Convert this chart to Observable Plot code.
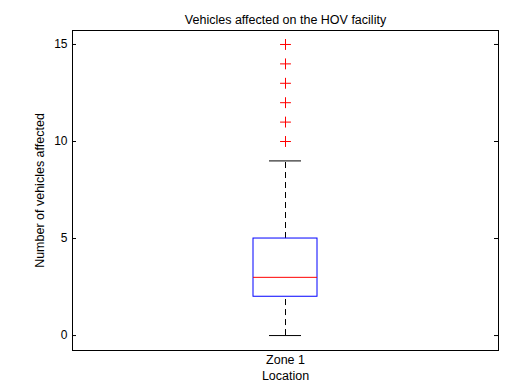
<!DOCTYPE html>
<html>
<head>
<meta charset="utf-8">
<script src="https://cdn.jsdelivr.net/npm/d3@7"></script>
<script src="https://cdn.jsdelivr.net/npm/@observablehq/plot@0.6"></script>
<style>
  html, body { margin: 0; padding: 0; background: #fff; }
  #chart svg { display: block; }
</style>
</head>
<body>
<div id="chart"></div>
<script>
// Data
const categories = ["Zone 1"];
const whiskerLow = [0];
const q1 = [2];
const median = [3];
const q3 = [5];
const whiskerHigh = [9];
const outliers = [10, 11, 12, 13, 14, 15];
const yTicks = [0, 5, 10, 15];
const title = "Vehicles affected on the HOV facility";
const xLabel = "Location";
const yLabel = "Number of vehicles affected";

const boxes = categories.map((c, i) => ({
  zone: c, lo: whiskerLow[i], q1: q1[i], med: median[i], q3: q3[i], hi: whiskerHigh[i]
}));
const outs = outliers.map(v => ({zone: categories[0], v}));

const W = 508, H = 389;
const mL = 72, mR = 10, mT = 30, mB = 39;
const plotW = W - mL - mR;
const font = "Liberation Sans, Arial, sans-serif";
const fs = 12.5;

const chart = Plot.plot({
  width: W,
  height: H,
  marginLeft: mL,
  marginRight: mR,
  marginTop: mT,
  marginBottom: mB,
  style: {fontFamily: font, fontSize: fs + "px", color: "#000", background: "#fff"},
  x: {type: "band", domain: categories, padding: 0.739, axis: null},
  y: {domain: [-0.77, 15.72], axis: null},
  marks: [
    // frame
    Plot.frame({stroke: "#000", strokeWidth: 1}),
    // inward y ticks, left and right
    Plot.tickY(yTicks, {y: d => d, stroke: "#000", insetRight: plotW - 4}),
    Plot.tickY(yTicks, {y: d => d, stroke: "#000", insetLeft: plotW - 4}),
    // whiskers (dashed)
    Plot.ruleX(boxes, {x: "zone", y1: "q3", y2: "hi", stroke: "#000", strokeDasharray: "6,4", strokeWidth: 1}),
    Plot.ruleX(boxes, {x: "zone", y1: "lo", y2: "q1", stroke: "#000", strokeDasharray: "6,4", strokeWidth: 1}),
    // whisker caps
    Plot.tickY(boxes, {x: "zone", y: "hi", stroke: "#000", strokeWidth: 1, insetLeft: 16, insetRight: 16}),
    Plot.tickY(boxes, {x: "zone", y: "lo", stroke: "#000", strokeWidth: 1, insetLeft: 16, insetRight: 16}),
    // box
    Plot.barY(boxes, {x: "zone", y1: "q1", y2: "q3", fill: "none", stroke: "#0000ff", strokeWidth: 1}),
    // median
    Plot.tickY(boxes, {x: "zone", y: "med", stroke: "#ff0000", strokeWidth: 1}),
    // y tick labels
    Plot.axisY(yTicks, {anchor: "left", tickSize: 0, tickPadding: 5, fontSize: 12, label: null}),
    // x tick label
    Plot.axisX(categories, {anchor: "bottom", tickSize: 0, tickPadding: 5, fontSize: fs, label: null}),
    // x axis title
    Plot.text([xLabel], {frameAnchor: "bottom", lineAnchor: "bottom", dy: 29, fontSize: fs, fill: "#000"}),
    // y axis title
    Plot.text([yLabel], {frameAnchor: "left", textAnchor: "middle", dx: -33, rotate: -90, fontSize: fs, fill: "#000"}),
    // chart title
    Plot.text([title], {frameAnchor: "top", dy: -15, fontSize: fs, fill: "#000"}),
    // outliers
    Plot.dot(outs, {x: "zone", y: "v", symbol: "plus", r: 3.6, stroke: "#ff0000", strokeWidth: 1})
  ]
});

document.getElementById("chart").appendChild(chart);
</script>
</body>
</html>
